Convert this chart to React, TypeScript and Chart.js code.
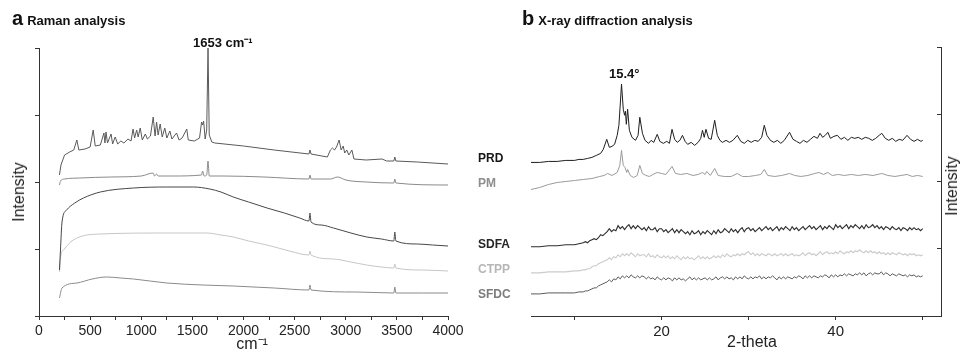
import React, { useEffect, useRef } from 'react';
import { Chart, registerables } from 'chart.js';

Chart.register(...registerables);

// ---------- Panel a: Raman spectra (x = wavenumber cm-1, y = intensity, arbitrary units) ----------
const ramanPrdX = [200, 215, 250, 300, 340, 370, 390, 450, 500, 530, 550, 600, 635, 645, 655, 670, 705, 720, 745, 770, 800, 830, 870, 900, 920, 935, 955, 970, 990, 1010, 1040, 1060, 1090, 1117, 1135, 1150, 1165, 1185, 1205, 1230, 1250, 1280, 1300, 1345, 1370, 1400, 1445, 1460, 1520, 1570, 1590, 1600, 1610, 1625, 1640, 1653, 1665, 1690, 1720, 2000, 2300, 2640, 2650, 2660, 2820, 2850, 2870, 2890, 2910, 2935, 2955, 2975, 2990, 3010, 3030, 3060, 3080, 3200, 3355, 3400, 3470, 3480, 3490, 3700, 4000];
const ramanPrdY = [141, 151, 161, 164, 166, 176, 166, 167, 169, 186, 170, 171, 183, 173, 184, 173, 182, 172, 179, 172, 175, 173, 177, 175, 187, 178, 186, 179, 188, 176, 182, 177, 180, 199, 180, 194, 181, 192, 179, 188, 178, 185, 177, 183, 176, 178, 187, 176, 175, 178, 194, 191, 195, 177, 186, 268, 181, 174, 173, 170, 166, 162, 166, 162, 159, 166, 168, 166, 169, 176, 166, 170, 163, 166, 161, 166, 157, 156, 157, 155, 155, 159, 155, 154, 152];

const ramanPmX = [200, 210, 250, 400, 700, 1000, 1117, 1130, 1150, 1165, 1300, 1590, 1600, 1615, 1640, 1653, 1665, 1800, 2200, 2640, 2650, 2660, 2850, 2920, 3000, 3200, 3470, 3480, 3490, 4000];
const ramanPmY = [131, 135, 137, 138, 139, 140, 143, 140, 142, 140, 140, 141, 145, 140, 141, 155, 140, 140, 139, 137, 141, 137, 137, 139, 136, 134, 133, 137, 133, 131];

const ramanSdfaX = [200, 210, 225, 270, 350, 435, 600, 925, 1250, 1510, 1670, 1780, 1900, 2050, 2230, 2400, 2550, 2640, 2650, 2660, 2760, 2880, 3050, 3205, 3350, 3470, 3480, 3490, 3700, 3850, 4000];
const ramanSdfaY = [46, 66, 94, 106, 113, 118, 124, 128, 129, 129, 127, 124, 119, 114, 108, 103, 98, 95, 103, 94, 91, 88, 83, 79, 77, 75, 84, 75, 72, 71, 70];

const ramanCtppX = [200, 215, 240, 335, 600, 1250, 1640, 1780, 1900, 2050, 2230, 2450, 2640, 2650, 2660, 2880, 3050, 3205, 3350, 3470, 3480, 3490, 3750, 4000];
const ramanCtppY = [44, 61, 66, 76, 82, 83, 83, 81, 79, 75, 71, 65, 61, 65, 61, 57, 54, 51, 49, 48, 52, 48, 46, 45];

const ramanSfdcX = [200, 225, 370, 520, 660, 800, 925, 1250, 1600, 1900, 2300, 2640, 2650, 2660, 3100, 3470, 3480, 3490, 3750, 4000];
const ramanSfdcY = [18, 28, 33, 37, 39, 38, 37, 33, 31, 30, 28, 26, 31, 26, 24, 23, 29, 23, 23, 23];

const ramanTicks = [0, 250, 500, 750, 1000, 1250, 1500, 1750, 2000, 2250, 2500, 2750, 3000, 3250, 3500, 3750, 4000];
const ramanLabeled = [0, 500, 1000, 1500, 2000, 2500, 3000, 3500, 4000];

// ---------- Panel b: XRD patterns (x = 2-theta, y = intensity, arbitrary units) ----------
const xrdPrdX = [5, 6, 7, 8, 9, 10, 10.5, 11, 11.5, 12, 12.5, 13, 13.3, 13.7, 14.0, 14.3, 14.6, 14.9, 15.1, 15.4, 15.6, 15.75, 15.85, 15.95, 16.1, 16.3, 16.6, 17.0, 17.3, 17.5, 17.8, 18.1, 18.5, 18.8, 19.1, 19.5, 19.8, 20.2, 20.6, 20.9, 21.2, 21.5, 21.8, 22.1, 22.4, 22.7, 23.0, 23.4, 23.8, 24.2, 24.5, 24.7, 24.9, 25.1, 25.4, 25.7, 26.1, 26.4, 26.7, 27.0, 27.4, 27.8, 28.2, 28.7, 29.1, 29.5, 29.9, 30.3, 30.7, 31.1, 31.5, 31.8, 32.1, 32.5, 32.9, 33.3, 33.7, 34.1, 34.7, 35.1, 35.5, 35.9, 36.3, 36.7, 37.1, 37.5, 37.9, 38.2, 38.5, 38.8, 39.1, 39.4, 39.8, 40.2, 40.6, 41.0, 41.4, 41.8, 42.2, 42.6, 43.0, 43.4, 43.8, 44.2, 44.6, 45.0, 45.3, 45.7, 46.1, 46.5, 46.9, 47.3, 47.7, 48.2, 48.6, 49.0, 49.4, 49.8, 50];
const xrdPrdY = [153, 153, 154, 154, 155, 155, 156, 156, 157, 158, 160, 162, 166, 176, 168, 169, 171, 180, 190, 231, 206, 200, 204, 191, 206, 185, 178, 175, 180, 198, 182, 175, 172, 175, 173, 181, 174, 172, 174, 172, 186, 176, 173, 175, 180, 174, 171, 173, 170, 173, 177, 185, 178, 186, 177, 176, 195, 180, 175, 173, 175, 173, 175, 180, 174, 172, 175, 173, 175, 174, 178, 190, 180, 175, 173, 175, 172, 175, 183, 176, 174, 172, 175, 173, 176, 179, 177, 182, 178, 180, 183, 177, 179, 180, 176, 178, 175, 178, 177, 178, 176, 178, 177, 175, 177, 180, 182, 177, 175, 177, 174, 176, 175, 180, 176, 174, 176, 174, 175];

const xrdPmX = [5, 6, 7, 8, 9, 10, 11, 12, 12.9, 13.4, 13.8, 14.3, 14.9, 15.2, 15.4, 15.6, 15.8, 16.0, 16.1, 16.4, 16.8, 17.2, 17.5, 17.8, 18.2, 18.6, 19.0, 19.5, 20.0, 20.5, 21.2, 21.6, 22.2, 22.9, 23.6, 24.2, 24.7, 25.0, 25.2, 25.6, 26.1, 26.5, 27.2, 28.0, 28.7, 29.3, 30.0, 30.8, 31.4, 31.8, 32.2, 33.0, 33.8, 34.7, 35.3, 36.0, 36.8, 37.6, 38.1, 38.6, 39.1, 39.6, 40.3, 41.0, 41.8, 42.6, 43.4, 44.3, 45.3, 46.0, 46.8, 47.5, 48.2, 48.8, 49.4, 50];
const xrdPmY = [126, 128, 131, 133, 134, 135, 136, 137, 139, 140, 142, 140, 143, 150, 165, 150, 148, 143, 146, 140, 138, 140, 150, 142, 140, 139, 141, 143, 142, 141, 149, 142, 141, 142, 140, 141, 143, 141, 144, 140, 147, 140, 139, 139, 142, 139, 139, 140, 141, 146, 140, 139, 140, 142, 140, 139, 140, 142, 143, 141, 143, 140, 141, 140, 141, 140, 141, 140, 142, 140, 139, 140, 141, 139, 140, 139];

const xrdAmorphX = [
  5, 6, 7, 8, 9, 10, 10.5,
  11, 11.25, 11.5, 11.75, 12, 12.25, 12.5, 12.75, 13, 13.25, 13.5, 13.75, 14, 14.25, 14.5, 14.75,
  15, 15.25, 15.5, 15.75, 16, 16.25, 16.5, 16.75, 17, 17.25, 17.5, 17.75, 18, 18.25, 18.5, 18.75,
  19, 19.25, 19.5, 19.75, 20, 20.25, 20.5, 20.75, 21, 21.25, 21.5, 21.75, 22, 22.25, 22.5, 22.75,
  23, 23.25, 23.5, 23.75, 24, 24.25, 24.5, 24.75, 25, 25.25, 25.5, 25.75, 26, 26.25, 26.5, 26.75,
  27, 27.25, 27.5, 27.75, 28, 28.25, 28.5, 28.75, 29, 29.25, 29.5, 29.75, 30, 30.25, 30.5, 30.75,
  31, 31.25, 31.5, 31.75, 32, 32.25, 32.5, 32.75, 33, 33.25, 33.5, 33.75, 34, 34.25, 34.5, 34.75,
  35, 35.25, 35.5, 35.75, 36, 36.25, 36.5, 36.75, 37, 37.25, 37.5, 37.75, 38, 38.25, 38.5, 38.75,
  39, 39.25, 39.5, 39.75, 40, 40.25, 40.5, 40.75, 41, 41.25, 41.5, 41.75, 42, 42.25, 42.5, 42.75,
  43, 43.25, 43.5, 43.75, 44, 44.25, 44.5, 44.75, 45, 45.25, 45.5, 45.75, 46, 46.25, 46.5, 46.75,
  47, 47.25, 47.5, 47.75, 48, 48.25, 48.5, 48.75, 49, 49.25, 49.5, 49.75, 50,
];
const xrdSdfaY = [
  69, 69, 70, 70, 71, 71, 72,
  73, 74, 73, 75, 76, 77, 76, 78, 81, 80, 82, 84, 87, 84, 86, 85,
  90, 87, 89, 86, 89, 91, 87, 90, 87, 90, 88, 86, 88, 85, 89, 86,
  86, 88, 84, 87, 87, 84, 86, 83, 85, 87, 83, 86, 83, 86, 84, 82,
  84, 81, 85, 82, 83, 85, 81, 84, 82, 85, 83, 81, 85, 82, 86, 83,
  84, 87, 85, 83, 87, 84, 86, 83, 86, 88, 84, 87, 88, 85, 87, 84,
  86, 88, 85, 87, 89, 86, 88, 85, 87, 89, 85, 88, 86, 89, 87, 85,
  89, 86, 88, 85, 87, 89, 86, 88, 90, 87, 89, 86, 88, 90, 86, 89,
  87, 90, 88, 86, 91, 88, 90, 87, 89, 91, 87, 90, 88, 91, 89, 87,
  90, 87, 91, 88, 89, 91, 88, 90, 87, 89, 86, 89, 88, 86, 89, 87,
  86, 88, 85, 88, 87, 85, 88, 86, 88, 86, 87, 85, 87,
];
const xrdCtppY = [
  43, 43, 44, 44, 44, 45, 45,
  46, 46, 47, 47, 49, 50, 50, 52, 53, 54, 55, 56, 58, 56, 59, 58,
  61, 59, 62, 60, 62, 60, 63, 61, 59, 62, 60, 61, 61, 59, 62, 59,
  60, 58, 61, 59, 58, 60, 58, 60, 57, 59, 57, 60, 58, 56, 59, 57,
  59, 57, 58, 56, 58, 60, 57, 59, 57, 59, 57, 58, 60, 58, 60, 58,
  61, 59, 62, 60, 59, 61, 60, 62, 60, 62, 61, 63, 64, 61, 63, 60,
  62, 60, 62, 61, 60, 62, 61, 60, 62, 60, 61, 62, 60, 62, 60, 61,
  62, 60, 61, 60, 61, 63, 60, 62, 63, 61, 62, 60, 62, 64, 61, 63,
  64, 62, 63, 62, 64, 62, 65, 63, 62, 64, 63, 65, 63, 65, 64, 66,
  64, 63, 65, 63, 65, 63, 64, 62, 64, 62, 63, 61, 63, 61, 63, 62,
  61, 63, 62, 61, 62, 60, 62, 61, 62, 60, 61, 60, 61,
];
const xrdSfdcY = [
  22, 22, 23, 23, 23, 23, 24,
  24, 25, 25, 26, 27, 28, 28, 30, 31, 32, 33, 34, 36, 34, 37, 36,
  39, 37, 40, 38, 40, 38, 41, 39, 38, 40, 38, 40, 39, 37, 39, 37,
  38, 36, 39, 37, 36, 38, 36, 38, 37, 35, 38, 36, 38, 36, 37, 35,
  37, 39, 36, 38, 36, 38, 36, 37, 38, 36, 38, 36, 37, 39, 36, 38,
  39, 37, 39, 37, 38, 36, 39, 37, 39, 37, 40, 38, 37, 39, 37, 39,
  38, 40, 37, 39, 37, 39, 38, 40, 38, 36, 39, 37, 39, 37, 39, 38,
  37, 39, 38, 40, 39, 37, 40, 38, 40, 38, 40, 39, 38, 40, 39, 41,
  40, 38, 41, 39, 41, 39, 41, 40, 42, 40, 42, 41, 40, 42, 41, 43,
  41, 43, 40, 42, 43, 41, 43, 42, 42, 44, 41, 43, 42, 40, 42, 41,
  40, 42, 41, 40, 41, 39, 41, 40, 41, 39, 40, 39, 40,
];

const xrdTicks = [10, 20, 30, 40, 50];
const xrdLabeled = [20, 40];

const intensityTicks = [0, 67, 134, 201, 268];

const sampleNames = ['PRD', 'PM', 'SDFA', 'CTPP', 'SFDC'];
const sampleLabelColors = ['#161616', '#8e8e8e', '#262626', '#b6b6b6', '#7c7c7c'];
const sampleLabelBaselines = [162, 187, 248, 273, 298];

const FONT = '"Liberation Sans", Arial, Helvetica, sans-serif';
const AXIS = '#333333';

const pts = (xs: number[], ys: number[]) => xs.map((x, i) => ({ x, y: ys[i] }));

const ds = (data: any, color: string, width = 1, smooth = false) => ({
  data,
  borderColor: color,
  borderWidth: width,
  pointRadius: 0,
  tension: smooth ? 0.4 : 0,
  cubicInterpolationMode: smooth ? 'monotone' : 'default',
  fill: false,
});

function ChartA() {
  const ref = useRef<HTMLCanvasElement>(null);
  useEffect(() => {
    const chart = new Chart(ref.current as HTMLCanvasElement, {
      type: 'line',
      data: {
        datasets: [
          ds(pts(ramanPrdX, ramanPrdY), '#5a5a5a'),
          ds(pts(ramanPmX, ramanPmY), '#8a8a8a', 1, true),
          ds(pts(ramanSdfaX, ramanSdfaY), '#474747', 1, true),
          ds(pts(ramanCtppX, ramanCtppY), '#c6c6c6', 1, true),
          ds(pts(ramanSfdcX, ramanSfdcY), '#8a8a8a', 1, true),
        ] as any,
      },
      options: {
        responsive: false,
        maintainAspectRatio: false,
        animation: false,
        layout: { padding: { top: 48, right: 32, left: 0, bottom: 0 } },
        plugins: { legend: { display: false }, tooltip: { enabled: false } },
        scales: {
          x: {
            type: 'linear',
            min: 0,
            max: 4000,
            afterBuildTicks: (s: any) => {
              s.ticks = ramanTicks.map((v) => ({ value: v }));
            },
            afterFit: (s: any) => {
              s.height = 36;
            },
            ticks: {
              autoSkip: false,
              maxRotation: 0,
              color: '#222',
              font: { family: FONT, size: 14 },
              callback: (v: any) => (ramanLabeled.includes(Number(v)) ? String(v) : ''),
            },
            grid: { drawOnChartArea: false, tickLength: 4, color: AXIS },
            border: { color: AXIS, width: 1 },
          },
          y: {
            type: 'linear',
            min: 0,
            max: 268,
            afterBuildTicks: (s: any) => {
              s.ticks = intensityTicks.map((v) => ({ value: v }));
            },
            afterFit: (s: any) => {
              s.width = 39;
            },
            ticks: { display: false },
            grid: { drawOnChartArea: false, tickLength: 4, color: AXIS },
            border: { color: AXIS, width: 1 },
          },
        },
      } as any,
    });
    return () => chart.destroy();
  }, []);
  return (
    <canvas
      ref={ref}
      width={480}
      height={352}
      style={{ position: 'absolute', left: 0, top: 0, width: 480, height: 352 }}
    />
  );
}

function ChartB() {
  const ref = useRef<HTMLCanvasElement>(null);
  useEffect(() => {
    const chart = new Chart(ref.current as HTMLCanvasElement, {
      type: 'line',
      data: {
        datasets: [
          ds(pts(xrdPrdX, xrdPrdY), '#1e1e1e'),
          ds(pts(xrdPmX, xrdPmY), '#9a9a9a'),
          ds(pts(xrdAmorphX, xrdSdfaY), '#2e2e2e', 1.1),
          ds(pts(xrdAmorphX, xrdCtppY), '#cbcbcb', 1.1),
          ds(pts(xrdAmorphX, xrdSfdcY), '#5a5a5a', 1),
        ] as any,
      },
      options: {
        responsive: false,
        maintainAspectRatio: false,
        animation: false,
        layout: { padding: { top: 47, right: 0, left: 51, bottom: 0 } },
        plugins: { legend: { display: false }, tooltip: { enabled: false } },
        scales: {
          x: {
            type: 'linear',
            min: 5,
            max: 52.1,
            afterBuildTicks: (s: any) => {
              s.ticks = xrdTicks.map((v) => ({ value: v }));
            },
            afterFit: (s: any) => {
              s.height = 36;
            },
            ticks: {
              autoSkip: false,
              maxRotation: 0,
              color: '#222',
              font: { family: FONT, size: 15 },
              callback: (v: any) => (xrdLabeled.includes(Number(v)) ? String(v) : ''),
            },
            grid: { drawOnChartArea: false, tickLength: 4, color: AXIS },
            border: { color: AXIS, width: 1 },
          },
          y: {
            type: 'linear',
            position: 'right',
            min: 0,
            max: 268,
            afterBuildTicks: (s: any) => {
              s.ticks = intensityTicks.map((v) => ({ value: v }));
            },
            afterFit: (s: any) => {
              s.width = 22;
            },
            ticks: { display: false },
            grid: { drawOnChartArea: false, tickLength: -4, color: AXIS },
            border: { color: AXIS, width: 1 },
          },
        },
      } as any,
    });
    return () => chart.destroy();
  }, []);
  return (
    <canvas
      ref={ref}
      width={483}
      height={352}
      style={{ position: 'absolute', left: 480, top: 0, width: 483, height: 352 }}
    />
  );
}

const base = (size: number) => 0.8465 * size;

function Text(props: {
  x: number;
  baseline: number;
  size: number;
  bold?: boolean;
  color?: string;
  center?: boolean;
  children: React.ReactNode;
}) {
  const { x, baseline, size, bold, color, center, children } = props;
  return (
    <div
      style={{
        position: 'absolute',
        left: x,
        top: baseline - base(size),
        fontFamily: FONT,
        fontSize: size,
        lineHeight: 1,
        fontWeight: bold ? 700 : 400,
        color: color || '#111',
        whiteSpace: 'nowrap',
        transform: center ? 'translateX(-50%)' : undefined,
      }}
    >
      {children}
    </div>
  );
}

function VText(props: { cx: number; cy: number; size: number; children: React.ReactNode }) {
  return (
    <div
      style={{
        position: 'absolute',
        left: props.cx,
        top: props.cy,
        fontFamily: FONT,
        fontSize: props.size,
        lineHeight: 1,
        color: '#222',
        whiteSpace: 'nowrap',
        transform: 'translate(-50%, -50%) rotate(-90deg)',
      }}
    >
      {props.children}
    </div>
  );
}

export default function App() {
  return (
    <div
      style={{
        position: 'absolute',
        left: 0,
        top: 0,
        width: 963,
        height: 352,
        background: '#ffffff',
        overflow: 'hidden',
      }}
    >
      <ChartA />
      <ChartB />

      <Text x={12} baseline={25} size={20} bold>
        a<span style={{ fontSize: 13, marginLeft: 4 }}>Raman analysis</span>
      </Text>
      <Text x={522} baseline={25} size={20} bold>
        b<span style={{ fontSize: 13, marginLeft: 4 }}>X-ray diffraction analysis</span>
      </Text>

      <Text x={193} baseline={47} size={13} bold>
        1653 cm⁻¹
      </Text>
      <Text x={609} baseline={78} size={13} bold>
        15.4°
      </Text>

      {sampleNames.map((n, i) => (
        <Text key={n} x={478} baseline={sampleLabelBaselines[i]} size={12} bold color={sampleLabelColors[i]}>
          {n}
        </Text>
      ))}

      <VText cx={19} cy={192} size={16}>
        Intensity
      </VText>
      <VText cx={952} cy={186} size={16}>
        Intensity
      </VText>

      <Text x={252} baseline={350} size={16} center color="#222">
        cm⁻¹
      </Text>
      <Text x={752} baseline={348} size={16} center color="#222">
        2-theta
      </Text>
    </div>
  );
}
